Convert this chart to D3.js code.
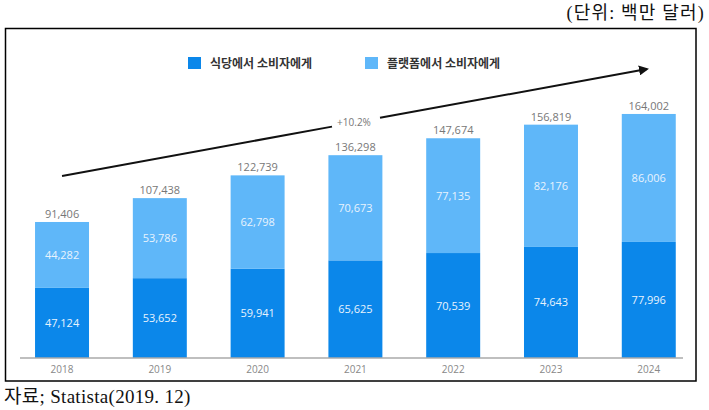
<!DOCTYPE html>
<html><head><meta charset="utf-8">
<script src="https://cdn.jsdelivr.net/npm/d3@7"></script>
<style>
body{margin:0;background:#fff;}
svg{display:block;}
</style>
</head><body>
<svg id="c" width="709" height="410"></svg>
<script>
const years = ["2018","2019","2020","2021","2022","2023","2024"];
const restaurantToConsumer = [47124, 53652, 59941, 65625, 70539, 74643, 77996];
const platformToConsumer = [44282, 53786, 62798, 70673, 77135, 82176, 86006];
const totals = [91406, 107438, 122739, 136298, 147674, 156819, 164002];
const seriesNames = ["식당에서 소비자에게", "플랫폼에서 소비자에게"];
const growthLabel = "+10.2%";
const unitLabel = "(단위: 백만 달러)";
const sourceLabel = "자료; Statista(2019. 12)";

const colors = ["#0b87ea", "#5fb7f9"];
const svg = d3.select("#c");
const serif = "'Liberation Serif','Noto Sans CJK KR',serif";
const sans = "'Open Sans','Noto Sans CJK KR',sans-serif";
const kr = "'Noto Sans CJK KR',sans-serif";

// unit label
svg.append("text").attr("x", 705).attr("y", 19).attr("text-anchor", "end")
  .attr("font-family", serif).attr("font-size", 18).attr("letter-spacing", 1.2).attr("fill", "#111").text(unitLabel);
// frame
svg.append("rect").attr("x", 5.5).attr("y", 28.5).attr("width", 690.5).attr("height", 352.5)
  .attr("fill", "none").attr("stroke", "#000").attr("stroke-width", 1.5);
// source
svg.append("text").attr("x", 4).attr("y", 403)
  .attr("font-family", serif).attr("font-size", 19).attr("letter-spacing", 0.3).attr("fill", "#111").text(sourceLabel);

const x = d3.scaleBand().domain(years).range([5.7, 705.1]).paddingInner(0.448).paddingOuter(0.3);
const y = d3.scaleLinear().domain([0, 200000]).range([358, 60.4]);

const data = years.map((yr, i) => ({year: yr, a: restaurantToConsumer[i], b: platformToConsumer[i], t: totals[i]}));
const stack = d3.stack().keys(["a", "b"])(data);

const g = svg.append("g");
stack.forEach((layer, li) => {
  g.selectAll(null).data(layer).enter().append("rect")
    .attr("x", d => x(d.data.year)).attr("width", x.bandwidth())
    .attr("y", d => y(d[1])).attr("height", d => y(d[0]) - y(d[1]))
    .attr("fill", colors[li]);
  g.selectAll(null).data(layer).enter().append("text")
    .attr("x", d => x(d.data.year) + x.bandwidth() / 2)
    .attr("y", d => (y(d[0]) + y(d[1])) / 2 + 4)
    .attr("text-anchor", "middle").attr("font-family", sans).attr("font-size", 11)
    .attr("fill", "#e8f3fd")
    .text(d => d3.format(",")(d[1] - d[0]));
});
// totals
g.selectAll(null).data(data).enter().append("text")
  .attr("x", d => x(d.year) + x.bandwidth() / 2)
  .attr("y", d => y(d.t) - 4)
  .attr("text-anchor", "middle").attr("font-family", sans).attr("font-size", 11)
  .attr("fill", "#777").text(d => d3.format(",")(d.t));

// axis
const axis = d3.axisBottom(x).tickSize(0).tickPadding(8);
const ag = svg.append("g").attr("transform", "translate(0,358)").call(axis);
ag.select(".domain").attr("stroke", "#aaa").attr("stroke-width", 1.5)
  .attr("d", "M20,0H683");
ag.selectAll("text").attr("font-family", sans).attr("font-size", 10).attr("fill", "#888");

// legend
const legX = [188, 365];
seriesNames.forEach((n, i) => {
  svg.append("rect").attr("x", legX[i]).attr("y", 57).attr("width", 13).attr("height", 12).attr("fill", colors[i]);
  svg.append("text").attr("x", legX[i] + 22).attr("y", 67.5).attr("font-family", kr)
    .attr("font-size", 12).attr("font-weight", "bold").attr("fill", "#333").text(n);
});

// growth arrow
svg.append("defs").append("marker").attr("id", "ah").attr("viewBox", "0 0 10 10")
  .attr("refX", 8).attr("refY", 5).attr("markerWidth", 5).attr("markerHeight", 5)
  .attr("orient", "auto").append("path").attr("d", "M0,0L10,5L0,10z").attr("fill", "#111");
const x0 = x("2018") + x.bandwidth() / 2, y0 = 176, x1 = 647, y1 = 69;
const slope = (y1 - y0) / (x1 - x0);
svg.append("line").attr("x1", x0).attr("y1", y0).attr("x2", 332).attr("y2", y0 + slope * (332 - x0))
  .attr("stroke", "#111").attr("stroke-width", 2);
svg.append("line").attr("x1", 380).attr("y1", y0 + slope * (380 - x0)).attr("x2", x1).attr("y2", y1)
  .attr("stroke", "#111").attr("stroke-width", 2).attr("marker-end", "url(#ah)");
svg.append("text").attr("x", 354).attr("y", 126).attr("text-anchor", "middle")
  .attr("font-family", sans).attr("font-size", 10).attr("fill", "#777").text(growthLabel);
</script>
</body></html>
